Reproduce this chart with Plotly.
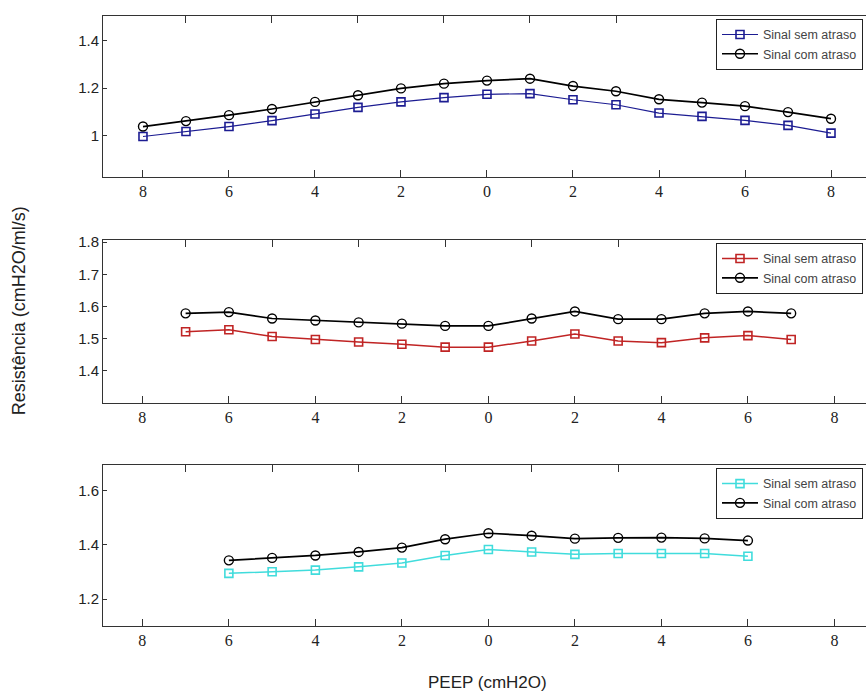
import plotly.graph_objects as go

W, H = 866, 695

# ---- data ----
x1 = list(range(-8, 9))
sem1 = [0.996, 1.017, 1.038, 1.063, 1.091, 1.119, 1.142, 1.160, 1.174, 1.177,
        1.151, 1.130, 1.095, 1.081, 1.064, 1.043, 1.010]
com1 = [1.038, 1.061, 1.086, 1.112, 1.142, 1.170, 1.199, 1.219, 1.232, 1.240,
        1.209, 1.187, 1.153, 1.139, 1.124, 1.099, 1.071]

x2 = list(range(-7, 8))
sem2 = [1.522, 1.528, 1.507, 1.498, 1.490, 1.483, 1.474, 1.474, 1.493, 1.515,
        1.493, 1.488, 1.503, 1.510, 1.498]
com2 = [1.579, 1.583, 1.563, 1.557, 1.551, 1.547, 1.540, 1.540, 1.563, 1.585,
        1.561, 1.561, 1.579, 1.585, 1.579]

x3 = list(range(-6, 7))
sem3 = [1.295, 1.301, 1.307, 1.319, 1.333, 1.361, 1.383, 1.374, 1.365, 1.368,
        1.368, 1.368, 1.358]
com3 = [1.343, 1.352, 1.361, 1.374, 1.390, 1.421, 1.443, 1.434, 1.423, 1.426,
        1.427, 1.424, 1.416]

xtick_vals = [-8, -6, -4, -2, 0, 2, 4, 6, 8]
xtick_text = ["8", "6", "4", "2", "0", "2", "4", "6", "8"]
top_ticks = [-7, -5, -3, -1, 1, 3]

names = ["Sinal sem atraso", "Sinal com atraso"]
colors = ["#1c1c92", "#c02424", "#40dcdc"]

panels = [
    dict(x=x1, sem=sem1, com=com1, yr=[0.827, 1.505], yt=[1.0, 1.2, 1.4], ytt=["1", "1.2", "1.4"],
         top=10, bot=172, xr=[-8.93, 8.814]),
    dict(x=x2, sem=sem2, com=com2, yr=[1.302, 1.807], yt=[1.4, 1.5, 1.6, 1.7, 1.8],
         ytt=["1.4", "1.5", "1.6", "1.7", "1.8"], top=236, bot=400, xr=[-8.91, 8.73]),
    dict(x=x3, sem=sem3, com=com3, yr=[1.102, 1.695], yt=[1.2, 1.4, 1.6], ytt=["1.2", "1.4", "1.6"],
         top=463, bot=625, xr=[-8.91, 8.73]),
]

fig = go.Figure()
layout = dict(
    width=W, height=H, margin=dict(l=0, r=0, t=0, b=0),
    paper_bgcolor="white", plot_bgcolor="white", showlegend=True,
)

xdom = [103 / W, 1.0]
for i, p in enumerate(panels):
    n = i + 1
    sx = "" if n == 1 else str(n)
    lg = "legend" if n == 1 else f"legend{n}"
    ydom = [(H - p["bot"]) / H, (H - p["top"]) / H]
    fig.add_trace(go.Scatter(
        x=p["x"], y=p["sem"], name=names[0], mode="lines+markers",
        line=dict(color=colors[i], width=1.5 if i else 1.2),
        marker=dict(symbol="square-open", size=8, color=colors[i], line=dict(width=1.6)),
        xaxis="x" + sx, yaxis="y" + sx, legend=lg))
    fig.add_trace(go.Scatter(
        x=p["x"], y=p["com"], name=names[1], mode="lines+markers",
        line=dict(color="black", width=1.7),
        marker=dict(symbol="circle-open", size=9, color="black", line=dict(width=1.4)),
        xaxis="x" + sx, yaxis="y" + sx, legend=lg))
    layout["xaxis" + sx] = dict(
        domain=xdom, range=p["xr"], anchor="y" + sx,
        tickvals=xtick_vals, ticktext=xtick_text, ticks="inside", ticklen=7,
        tickcolor="#333", showline=True, linecolor="#333", linewidth=1, showgrid=False,
        zeroline=False, tickfont=dict(family="Liberation Serif", size=16, color="#222"),
    )
    # top overlay axis with odd ticks
    tn = n + 3
    layout[f"xaxis{tn}"] = dict(
        domain=xdom, range=p["xr"], anchor="y" + sx, overlaying="x" + sx, side="top",
        tickvals=top_ticks, ticks="inside", ticklen=7, tickcolor="#333",
        showticklabels=False, showline=True, linecolor="#333", linewidth=1,
        showgrid=False, zeroline=False,
    )
    layout["yaxis" + sx] = dict(
        domain=ydom, range=p["yr"], anchor="x" + sx,
        tickvals=p["yt"], ticktext=p["ytt"], ticks="inside", ticklen=4, tickcolor="#333",
        showline=True, linecolor="#333", linewidth=1, showgrid=False, zeroline=False,
        tickfont=dict(family="Liberation Sans", size=15, color="#222"),
    )
    layout[lg] = dict(
        x=716 / W, xanchor="left", y=(H - p["top"] - 3) / H, yanchor="top",
        bgcolor="white", bordercolor="#222", borderwidth=1,
        font=dict(family="Liberation Sans", size=12.5, color="#444"),
        tracegroupgap=0, itemwidth=36,
    )

# dummy traces to activate top axes
for n in (4, 5, 6):
    yref = "y" if n == 4 else f"y{n-3}"
    fig.add_trace(go.Scatter(x=[None], y=[None], xaxis=f"x{n}", yaxis=yref,
                             showlegend=False, hoverinfo="skip"))

layout["annotations"] = [
    dict(text="Resistência (cmH2O/ml/s)", x=19 / W, y=(H - 308) / H, xref="paper", yref="paper",
         textangle=-90, showarrow=False, xanchor="center", yanchor="middle",
         font=dict(family="Liberation Sans", size=18, color="#222")),
    dict(text="PEEP (cmH2O)", x=487 / W, y=(H - 682) / H, xref="paper", yref="paper",
         showarrow=False, xanchor="center", yanchor="middle",
         font=dict(family="Liberation Sans", size=17, color="#222")),
]

fig.update_layout(**layout)
fig.write_html("out.html")
